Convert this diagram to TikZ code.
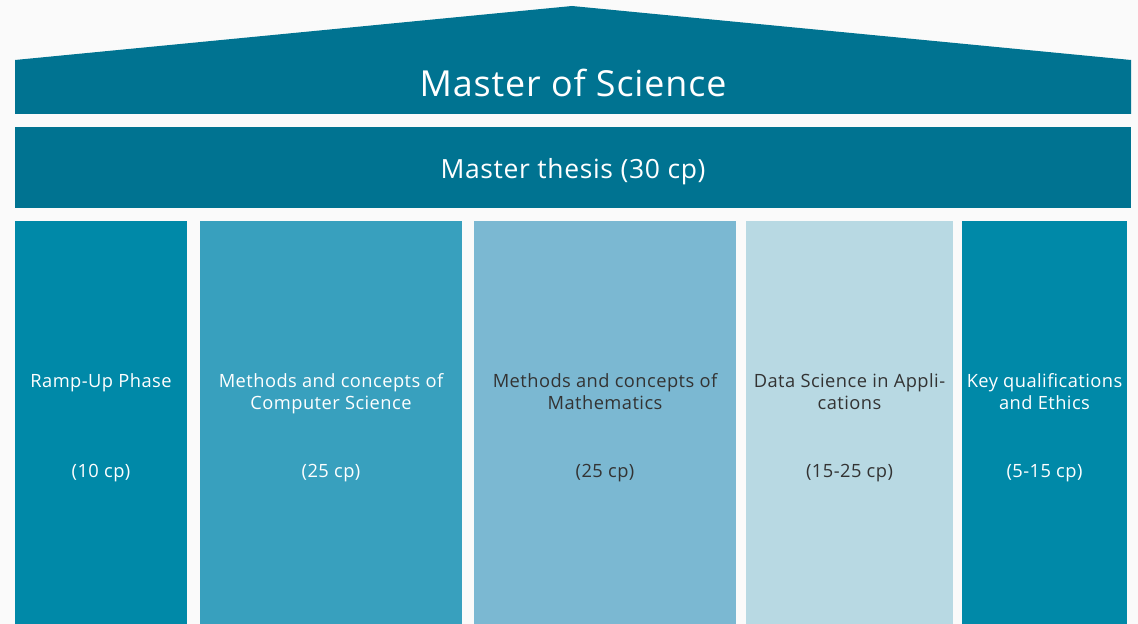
\documentclass[tikz,border=0pt]{standalone}
\usepackage{fontspec}
\setmainfont[LetterSpace=2.5]{Open Sans}
\usetikzlibrary{positioning}

\definecolor{roofblue}{HTML}{007391}
\definecolor{pillarA}{HTML}{0089A8}
\definecolor{pillarB}{HTML}{38A0BE}
\definecolor{pillarC}{HTML}{7BB8D2}
\definecolor{pillarD}{HTML}{B8D9E3}
\definecolor{darktext}{HTML}{333333}
\definecolor{paper}{HTML}{FAFAFA}

\begin{document}
\begin{tikzpicture}[x=0.025cm, y=-0.025cm,
    every node/.style={inner sep=0pt},
    roof/.style={fill=roofblue, draw=none},
    pillar/.style={draw=none},
    pillartext/.style={align=center, anchor=base, font=\fontsize{13}{15.6}\selectfont},
    cptext/.style={anchor=base, font=\fontsize{13}{15.6}\selectfont}]

    % --- background ---
    \fill[paper] (0,0) rectangle (1138,624);
    \useasboundingbox (0,0) rectangle (1138,624);

    % --- roof with the degree ---
    \fill[roof] (15,114) -- (15,60) -- (572,6) -- (1131,60) -- (1131,114) -- cycle;
    \node[anchor=base, text=white, font=\fontsize{25.5}{30}\selectfont] (degree) at (573,97) {Master of Science};

    % --- thesis beam ---
    \fill[roof] (15,127) rectangle (1131,208);
    \node[anchor=base, text=white, font=\fontsize{18.8}{22}\selectfont] (thesis) at (573,178) {Master thesis (30 cp)};

    % --- pillars ---
    \fill[pillar, pillarA] (15,221) rectangle (187,624);
    \fill[pillar, pillarB] (200,221) rectangle (462,624);
    \fill[pillar, pillarC] (474,221) rectangle (736,624);
    \fill[pillar, pillarD] (746,221) rectangle (953,624);
    \fill[pillar, pillarA] (962,221) rectangle (1127,624);

    % first pillar (one line, base on first row)
    \node[pillartext, text=white] (ramp) at (101,387) {Ramp-Up Phase};
    \node[cptext, text=white] (rampcp) at (101,477) {(10 cp)};

    % second pillar (two lines, base on second row)
    \node[pillartext, text=white] (cs) at (331,409) {Methods and concepts of\\Computer Science};
    \node[cptext, text=white] (cscp) at (331,477) {(25 cp)};

    % third pillar
    \node[pillartext, text=darktext] (math) at (605,409) {Methods and concepts of\\Mathematics};
    \node[cptext, text=darktext] (mathcp) at (605,477) {(25 cp)};

    % fourth pillar
    \node[pillartext, text=darktext] (apps) at (849.5,409) {Data Science in Appli-\\cations};
    \node[cptext, text=darktext] (appscp) at (849.5,477) {(15-25 cp)};

    % fifth pillar
    \node[pillartext, text=white] (key) at (1044.5,409) {Key qualifications\\and Ethics};
    \node[cptext, text=white] (keycp) at (1044.5,477) {(5-15 cp)};
\end{tikzpicture}
\end{document}
